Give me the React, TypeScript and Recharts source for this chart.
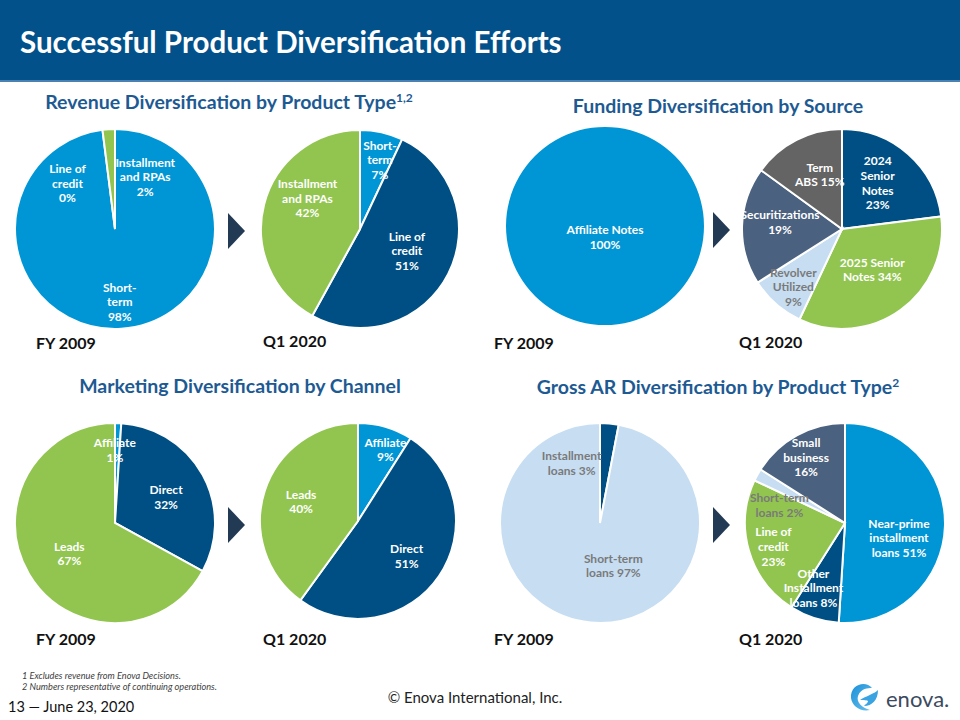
import React from 'react';
import { PieChart, Pie, Cell } from 'recharts';

// ---------- Data ----------
const revenueFY2009Names = ['Short-\nterm\n{p}', 'Line of\ncredit\n{p}', 'Installment\nand RPAs\n{p}'];
const revenueFY2009Values = [98, 0, 2];

const revenueQ12020Names = ['Short-\nterm\n{p}', 'Line of\ncredit\n{p}', 'Installment\nand RPAs\n{p}'];
const revenueQ12020Values = [7, 51, 42];

const fundingFY2009Names = ['Affiliate Notes\n{p}'];
const fundingFY2009Values = [100];

const fundingQ12020Names = ['2024\nSenior\nNotes\n{p}', '2025 Senior\nNotes {p}', 'Revolver\nUtilized\n{p}', 'Securitizations\n{p}', 'Term\nABS {p}'];
const fundingQ12020Values = [23, 34, 9, 19, 15];

const marketingFY2009Names = ['Affiliate\n{p}', 'Direct\n{p}', 'Leads\n{p}'];
const marketingFY2009Values = [1, 32, 67];

const marketingQ12020Names = ['Affiliate\n{p}', 'Direct\n{p}', 'Leads\n{p}'];
const marketingQ12020Values = [9, 51, 40];

const arFY2009Names = ['Installment\nloans {p}', 'Short-term\nloans {p}'];
const arFY2009Values = [3, 97];

const arQ12020Names = ['Near-prime\ninstallment\nloans {p}', 'Other\nInstallment\nloans {p}', 'Line of\ncredit\n{p}', 'Short-term\nloans {p}', 'Small\nbusiness\n{p}'];
const arQ12020Values = [51, 8, 23, 2, 16];

// ---------- Styles ----------
const BLUE = '#0096D6';
const NAVY = '#004F84';
const GREEN = '#92C550';
const LIGHT = '#C6DDF2';
const SLATE = '#4B6180';
const GRAY = '#646464';
const W = '#FFFFFF';
const TG = '#7A7A7A';
const FONT = 'Lato, "Open Sans", sans-serif';
const TITLE = '#1D5A93';

type Cfg = {
  names: string[];
  values: number[];
  cx: number;
  cy: number;
  r: number;
  colors: string[];
  textColors: string[];
  nudges: [number, number][];
  stroke?: boolean;
};

const charts: Cfg[] = [
  { names: revenueFY2009Names, values: revenueFY2009Values, cx: 115, cy: 229, r: 100,
    colors: [BLUE, NAVY, GREEN], textColors: [W, W, W], nudges: [[1, 13], [-40, 14], [34, 8]] },
  { names: revenueQ12020Names, values: revenueQ12020Values, cx: 360, cy: 229, r: 99,
    colors: [BLUE, NAVY, GREEN], textColors: [W, W, W], nudges: [[7, -11], [-6, -5], [5, -16]] },
  { names: fundingFY2009Names, values: fundingFY2009Values, cx: 605, cy: 226, r: 99,
    colors: [BLUE], textColors: [W], nudges: [[0, -48]], stroke: false },
  { names: fundingQ12020Names, values: fundingQ12020Values, cx: 842, cy: 229, r: 100,
    colors: [NAVY, GREEN, LIGHT, SLATE, GRAY], textColors: [W, W, TG, W, W],
    nudges: [[-4, -1], [-5, -8], [-9, 13], [-2, -5], [5, -1]] },
  { names: marketingFY2009Names, values: marketingFY2009Values, cx: 115, cy: 523, r: 100,
    colors: [BLUE, NAVY, GREEN], textColors: [W, W, W], nudges: [[-2, -13], [-1.5, 3], [6, 0]] },
  { names: marketingQ12020Names, values: marketingQ12020Values, cx: 358, cy: 521, r: 98,
    colors: [BLUE, NAVY, GREEN], textColors: [W, W, W], nudges: [[11, -15], [0, 2], [-1, -1]] },
  { names: arFY2009Names, values: arFY2009Values, cx: 600, cy: 523, r: 100,
    colors: [NAVY, LIGHT], textColors: [TG, TG], nudges: [[-34, 0], [19, -17]] },
  { names: arQ12020Names, values: arQ12020Values, cx: 845, cy: 523, r: 100,
    colors: [BLUE, NAVY, GREEN, LIGHT, SLATE], textColors: [W, W, W, TG, W],
    nudges: [[-6, 13], [-13, 8], [-14, 7], [-13, 11], [-10, -13]] },
];

const RAD = Math.PI / 180;
const LH = 14.6;

function makeLabel(cfg: Cfg) {
  return (props: any) => {
    const { cx, cy, midAngle, outerRadius, index, value } = props;
    const rr = outerRadius * 0.6;
    const x = cx + rr * Math.cos(-midAngle * RAD) + cfg.nudges[index][0];
    const y = cy + rr * Math.sin(-midAngle * RAD) + cfg.nudges[index][1];
    const lines = cfg.names[index].replace('{p}', `${value}%`).split('\n');
    const y0 = y - ((lines.length - 1) * LH) / 2 + 4.3;
    return (
      <text key={`l${index}`} x={x} y={y0} textAnchor="middle" fill={cfg.textColors[index]}
        fontSize={12} fontWeight={700} fontFamily={FONT}>
        {lines.map((l, i) => (
          <tspan key={i} x={x} dy={i === 0 ? 0 : LH}>{l}</tspan>
        ))}
      </text>
    );
  };
}

function OnePie({ cfg }: { cfg: Cfg }) {
  const size = cfg.r * 2 + 6;
  const data = cfg.values.map((v, i) => ({ name: cfg.names[i], value: v }));
  return (
    <div style={{ position: 'absolute', left: cfg.cx - size / 2, top: cfg.cy - size / 2, width: size, height: size }}>
      <PieChart width={size} height={size} margin={{ top: 0, right: 0, bottom: 0, left: 0 }}>
        <Pie data={data} dataKey="value" cx="50%" cy="50%" outerRadius={cfg.r} innerRadius={0}
          startAngle={90} endAngle={-270} isAnimationActive={false}
          stroke={cfg.stroke === false ? 'none' : '#FFFFFF'} strokeWidth={cfg.stroke === false ? 0 : 2}
          label={makeLabel(cfg)} labelLine={false}>
          {data.map((d, i) => (
            <Cell key={i} fill={cfg.colors[i]} />
          ))}
        </Pie>
      </PieChart>
    </div>
  );
}

function Arrow({ x, y }: { x: number; y: number }) {
  return <polygon points={`${x},${y - 18} ${x + 17},${y} ${x},${y + 18}`} fill="#233A55" />;
}

export default function App() {
  return (
    <div style={{ position: 'absolute', left: 0, top: 0, width: 960, height: 720, background: '#FFFFFF', overflow: 'hidden', fontFamily: FONT }}>
      <svg width={960} height={720} style={{ position: 'absolute', left: 0, top: 0 }}>
        <rect x={0} y={0} width={960} height={81} fill="#03518A" />
        <rect x={0} y={80} width={960} height={2} fill="#4A80B2" />
        <text x={20} y={53} fill="#FFFFFF" fontSize={29.5} fontWeight={700} fontFamily={FONT}>Successful Product Diversification Efforts</text>

        <text x={229} y={109} textAnchor="middle" fill={TITLE} fontSize={19.5} fontWeight={700} fontFamily={FONT}>
          Revenue Diversification by Product Type<tspan dy={-7} fontSize={12}>1,2</tspan>
        </text>
        <text x={718} y={113} textAnchor="middle" fill={TITLE} fontSize={19.5} fontWeight={700} fontFamily={FONT}>Funding Diversification by Source</text>
        <text x={240} y={393} textAnchor="middle" fill={TITLE} fontSize={19.5} fontWeight={700} fontFamily={FONT}>Marketing Diversification by Channel</text>
        <text x={718} y={394} textAnchor="middle" fill={TITLE} fontSize={19.5} fontWeight={700} fontFamily={FONT}>
          Gross AR Diversification by Product Type<tspan dy={-7} fontSize={12}>2</tspan>
        </text>

        {[
          [36, 349, 'FY 2009'], [263, 347, 'Q1 2020'], [494, 349, 'FY 2009'], [739, 348, 'Q1 2020'],
          [36, 645, 'FY 2009'], [263, 645, 'Q1 2020'], [494, 645, 'FY 2009'], [739, 645, 'Q1 2020'],
        ].map(([x, y, t], i) => (
          <text key={i} x={x as number} y={y as number} fill="#111111" fontSize={16} fontWeight={700} fontFamily={FONT}>{t}</text>
        ))}

        <Arrow x={228} y={231} />
        <Arrow x={713} y={230} />
        <Arrow x={228} y={525} />
        <Arrow x={713} y={525} />

        <text x={22} y={679} fill="#404040" fontSize={9.2} fontStyle="italic" fontFamily={FONT}>1 Excludes revenue from Enova Decisions.</text>
        <text x={22} y={690} fill="#404040" fontSize={9.2} fontStyle="italic" fontFamily={FONT}>2 Numbers representative of continuing operations.</text>
        <text x={8} y={712} fill="#111111" fontSize={14.5} fontFamily={FONT}>13 — June 23, 2020</text>
        <text x={475} y={703} textAnchor="middle" fill="#222222" fontSize={15} fontFamily={FONT}>© Enova International, Inc.</text>

        <defs>
          <linearGradient id="lg" x1="0" y1="0" x2="1" y2="1">
            <stop offset="0" stopColor="#1A8FD8" />
            <stop offset="1" stopColor="#6BC2EE" />
          </linearGradient>
        </defs>
        <path d="M 872 688 C 866 680, 850 684, 851 698 C 852 706, 860 712, 870 710 C 862 708, 856 702, 858 696 C 861 688, 868 688, 872 688 Z" fill="url(#lg)" />
        <path d="M 860 700 C 866 696, 874 694, 878 690 C 878 700, 872 706, 864 706 C 868 702, 872 700, 860 700 Z" fill="#3AA4E2" />
        <text x={886} y={707} fill="#3B4A5E" fontSize={22} fontFamily={FONT}>enova.</text>
      </svg>

      {charts.map((c, i) => (
        <OnePie key={i} cfg={c} />
      ))}
    </div>
  );
}
